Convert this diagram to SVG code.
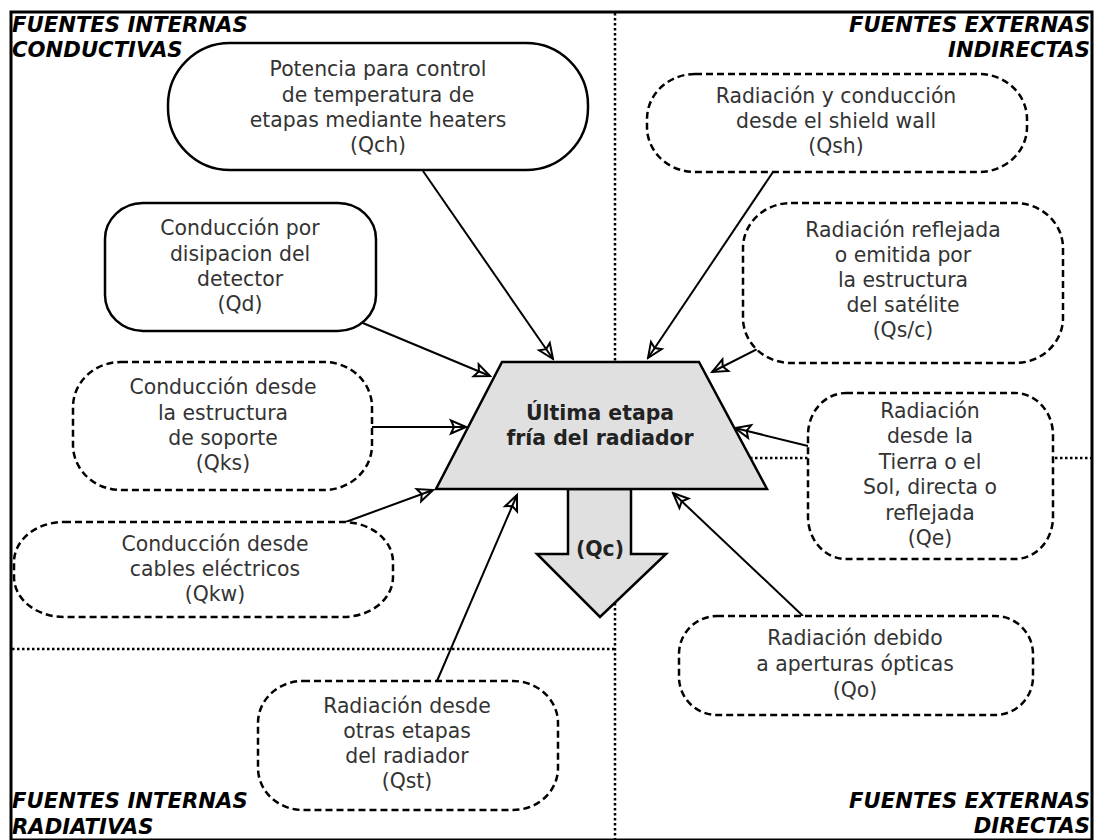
<svg xmlns="http://www.w3.org/2000/svg" width="1095" height="840" viewBox="0 0 1095 840">
<style>
.solid{fill:#fff;stroke:#000;stroke-width:2.5}
.dash{fill:#fff;stroke:#000;stroke-width:2.5;stroke-dasharray:7,4}
.dot{fill:none;stroke:#000;stroke-width:2.5;stroke-dasharray:2.5,2.5}
.t{font-family:"DejaVu Sans",sans-serif;font-size:20.4px;fill:#333;text-anchor:middle}
.b{font-family:"DejaVu Sans",sans-serif;font-size:20.4px;font-weight:bold;fill:#222;text-anchor:middle}
.h{font-family:"DejaVu Sans",sans-serif;font-size:21.2px;font-weight:bold;font-style:italic;fill:#000}
.c{fill:none;stroke:#000;stroke-width:2;marker-end:url(#ah)}
</style>
<defs>
<marker id="ah" viewBox="-18 -9 20 18" refX="0" refY="0" markerWidth="20" markerHeight="18" orient="auto" markerUnits="userSpaceOnUse">
<path d="M0,0 L-15,-6.5 L-12,0 L-15,6.5 Z" fill="none" stroke="#000" stroke-width="2"/>
</marker>
</defs>
<rect x="0" y="0" width="1095" height="840" fill="#fff"/>
<rect x="11" y="12" width="1081" height="828" fill="none" stroke="#000" stroke-width="3"/>
<g id="dividers">
<line class="dot" x1="615" y1="13" x2="615" y2="840"/>
<line class="dot" x1="12" y1="649" x2="615" y2="649"/>
<line class="dot" x1="615" y1="458" x2="1091" y2="458"/>
</g>
<g id="headings">
<text class="h" x="12" y="32">FUENTES INTERNAS</text>
<text class="h" x="12" y="57">CONDUCTIVAS</text>
<text class="h" x="1090" y="32" text-anchor="end">FUENTES EXTERNAS</text>
<text class="h" x="1090" y="57" text-anchor="end">INDIRECTAS</text>
<text class="h" x="12" y="808">FUENTES INTERNAS</text>
<text class="h" x="12" y="834">RADIATIVAS</text>
<text class="h" x="1090" y="808" text-anchor="end">FUENTES EXTERNAS</text>
<text class="h" x="1090" y="833" text-anchor="end">DIRECTAS</text>
</g>
<g id="connectors">
<path class="c" d="M423,171 L553,359"/>
<path class="c" d="M358,321 L490,376"/>
<path class="c" d="M372,427 L466,427"/>
<path class="c" d="M343,523 L433,490"/>
<path class="c" d="M437,681 L517,495"/>
<path class="c" d="M803,616 L673,493"/>
<path class="c" d="M808,446 L735,428"/>
<path class="c" d="M765,345 L712,372"/>
<path class="c" d="M773,172 L648,358"/>
</g>
<g id="center">
<polygon points="568,489 631,489 631,554 666,554 600,617 537,554 568,554" fill="#e0e0e0" stroke="#000" stroke-width="2.5"/>
<polygon points="502,362 699,362 767,489 436,489" fill="#e0e0e0" stroke="#000" stroke-width="2.5"/>
<text class="b" x="600" y="420">Última etapa</text>
<text class="b" x="600" y="445">fría del radiador</text>
<text class="b" x="600" y="556">(Qc)</text>
</g>
<g id="Qch">
<rect class="solid" x="168" y="43" width="420" height="127" rx="62" ry="62"/>
<text class="t" x="378" y="76">Potencia para control</text>
<text class="t" x="378" y="102">de temperatura de</text>
<text class="t" x="378" y="127">etapas mediante heaters</text>
<text class="t" x="378" y="152">(Qch)</text>
</g>
<g id="Qd">
<rect class="solid" x="105" y="203" width="271" height="128" rx="38" ry="36"/>
<text class="t" x="240" y="235">Conducción por</text>
<text class="t" x="240" y="261">disipacion del</text>
<text class="t" x="240" y="286">detector</text>
<text class="t" x="240" y="311">(Qd)</text>
</g>
<g id="Qks">
<rect class="dash" x="73" y="362" width="299" height="128" rx="48" ry="45"/>
<text class="t" x="223" y="394">Conducción desde</text>
<text class="t" x="223" y="420">la estructura</text>
<text class="t" x="223" y="445">de soporte</text>
<text class="t" x="223" y="470">(Qks)</text>
</g>
<g id="Qkw">
<rect class="dash" x="14" y="522" width="379" height="95" rx="50" ry="40"/>
<text class="t" x="215" y="551">Conducción desde</text>
<text class="t" x="215" y="576">cables eléctricos</text>
<text class="t" x="215" y="601">(Qkw)</text>
</g>
<g id="Qst">
<rect class="dash" x="258" y="681" width="300" height="129" rx="45" ry="42"/>
<text class="t" x="407" y="713">Radiación desde</text>
<text class="t" x="407" y="738">otras etapas</text>
<text class="t" x="407" y="763">del radiador</text>
<text class="t" x="407" y="788">(Qst)</text>
</g>
<g id="Qsh">
<rect class="dash" x="647" y="74" width="380" height="98" rx="48" ry="45"/>
<text class="t" x="836" y="103">Radiación y conducción</text>
<text class="t" x="836" y="128">desde el shield wall</text>
<text class="t" x="836" y="153">(Qsh)</text>
</g>
<g id="Qsc">
<rect class="dash" x="743" y="203" width="320" height="160" rx="48" ry="45"/>
<text class="t" x="903" y="237">Radiación reflejada</text>
<text class="t" x="903" y="262">o emitida por</text>
<text class="t" x="903" y="287">la estructura</text>
<text class="t" x="903" y="312">del satélite</text>
<text class="t" x="903" y="337">(Qs/c)</text>
</g>
<g id="Qe">
<rect class="dash" x="808" y="393" width="245" height="166" rx="38" ry="42"/>
<text class="t" x="930" y="418">Radiación</text>
<text class="t" x="930" y="443">desde la</text>
<text class="t" x="930" y="469">Tierra o el</text>
<text class="t" x="930" y="494">Sol, directa o</text>
<text class="t" x="930" y="520">reflejada</text>
<text class="t" x="930" y="545">(Qe)</text>
</g>
<g id="Qo">
<rect class="dash" x="679" y="616" width="354" height="99" rx="38" ry="38"/>
<text class="t" x="855" y="645">Radiación debido</text>
<text class="t" x="855" y="671">a aperturas ópticas</text>
<text class="t" x="855" y="697">(Qo)</text>
</g>
</svg>
